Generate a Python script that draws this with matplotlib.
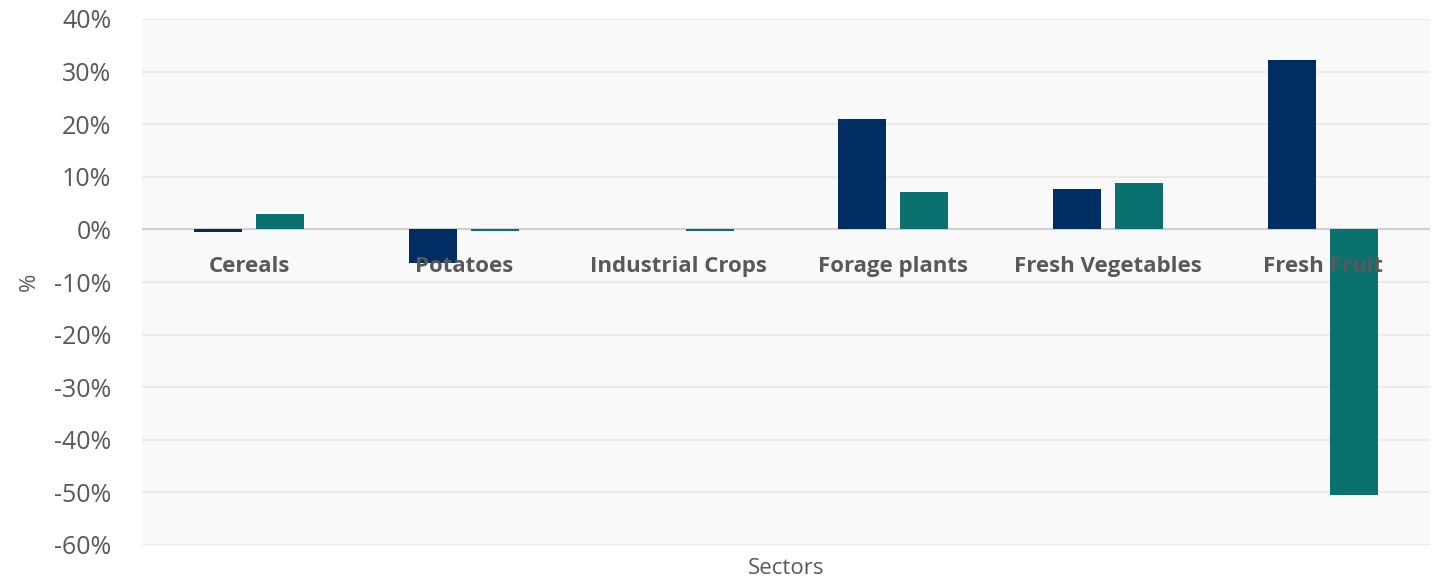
import matplotlib.pyplot as plt
import numpy as np

# sector values in percent
sectors = ['Cereals', 'Potatoes', 'Industrial Crops', 'Forage plants',
           'Fresh Vegetables', 'Fresh Fruit']
series_a = [-0.5, -6.3, 0.05, 20.9, 7.6, 32.3]
series_b = [3.0, -0.3, -0.3, 7.2, 8.9, -50.4]
yticks = [-60, -50, -40, -30, -20, -10, 0, 10, 20, 30, 40]

navy = '#002D62'
teal = '#0B716E'
grey_txt = '#595959'

plt.rcParams['font.family'] = ['Open Sans', 'DejaVu Sans']

fig = plt.figure(figsize=(14.35, 5.8), dpi=100)
ax = fig.add_axes([142 / 1435, 35 / 580, 1288 / 1435, 526 / 580])
ax.set_facecolor('#f9f9f9')

x = np.arange(len(sectors))
w = 0.223
off = 0.144
ax.bar(x - off, series_a, w, color=navy, zorder=3)
ax.bar(x + off, series_b, w, color=teal, zorder=3)

ax.set_xlim(-0.5, len(sectors) - 0.5)
ax.set_ylim(-60, 40)
ax.set_yticks(yticks)
ax.set_yticklabels([f'{t}%' for t in yticks], fontsize=18, color=grey_txt)
ax.set_xticks([])
ax.grid(axis='y', color='#e8e8e8', linewidth=1.2, zorder=0)
ax.axhline(0, color='#d0d0d0', linewidth=1.5, zorder=2)
for s in ax.spines.values():
    s.set_visible(False)
ax.tick_params(axis='y', length=0, pad=22)

# category labels sit just below the zero line
for i, name in enumerate(sectors):
    ax.text(i, -7.0, name, ha='center', va='center', fontsize=16,
            fontweight='bold', color=grey_txt, zorder=4)

ax.set_ylabel('%', fontsize=16, color=grey_txt, labelpad=10)
fig.text(786 / 1435, 1 - 569 / 580, 'Sectors', ha='center', va='center',
         fontsize=16, color=grey_txt)

fig.savefig('out.png', dpi=100, facecolor='white')
